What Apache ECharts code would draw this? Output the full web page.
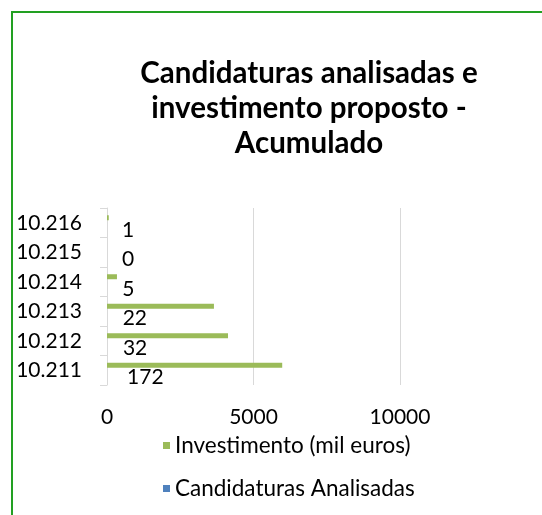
<!DOCTYPE html>
<html>
<head>
<meta charset="utf-8">
<script src="https://cdn.jsdelivr.net/npm/echarts@6/dist/echarts.min.js"></script>
<style>
html,body{margin:0;padding:0;background:#fff;overflow:hidden;}
#frame{position:absolute;left:11px;top:11px;width:600px;height:600px;border:2px solid #22a022;box-sizing:border-box;}
#chart{position:absolute;left:0;top:0;width:542px;height:515px;}
</style>
</head>
<body>
<div id="frame"></div>
<div id="chart"></div>
<script>
const categories = ['10.211', '10.212', '10.213', '10.214', '10.215', '10.216'];
const investimento = [5980, 4130, 3650, 340, 0, 60];
const candidaturas = [172, 32, 22, 5, 0, 1];
const xTicks = [0, 5000, 10000];

const FONT = 'Lato';
const chart = echarts.init(document.getElementById('chart'), null, {renderer: 'canvas'});
chart.setOption({
  animation: false,
  title: {
    text: 'Candidaturas analisadas e\ninvestimento proposto -\nAcumulado',
    left: 304,
    top: 51,
    textAlign: 'center',
    textStyle: {fontFamily: FONT, fontWeight: 'bold', fontSize: 29.5, lineHeight: 35, color: '#000'}
  },
  legend: {
    orient: 'vertical',
    left: 158,
    top: 429,
    itemWidth: 7,
    itemHeight: 7,
    itemGap: 20,
    icon: 'rect',
    textStyle: {fontFamily: FONT, fontSize: 22.5, color: '#000'},
    data: [
      {name: 'Investimento (mil euros)', itemStyle: {color: '#9bbb59'}},
      {name: 'Candidaturas Analisadas', itemStyle: {color: '#4f81bd'}}
    ]
  },
  grid: {left: 107, right: 142, top: 208, bottom: 130, containLabel: false},
  xAxis: {
    type: 'value',
    min: xTicks[0],
    max: xTicks[xTicks.length - 1],
    interval: xTicks[1] - xTicks[0],
    axisLine: {show: false},
    axisTick: {show: false},
    splitLine: {show: true, lineStyle: {color: '#d9d9d9', width: 1}},
    axisLabel: {fontFamily: FONT, fontSize: 21, color: '#000', margin: 22, formatter: function (v) { return String(v); }}
  },
  yAxis: {
    type: 'category',
    data: categories,
    axisLine: {show: true, lineStyle: {color: '#d9d9d9', width: 1}},
    axisTick: {show: true, length: 7, lineStyle: {color: '#d9d9d9'}},
    axisLabel: {fontFamily: FONT, fontSize: 21, color: '#000', margin: 25}
  },
  series: [
    {
      name: 'Investimento (mil euros)',
      type: 'bar',
      data: investimento,
      barWidth: 5,
      barGap: '100%',
      itemStyle: {color: '#9bbb59'}
    },
    {
      name: 'Candidaturas Analisadas',
      type: 'bar',
      data: candidaturas,
      barWidth: 5,
      barGap: '100%',
      itemStyle: {color: 'rgba(79,129,189,0)'},
      label: {
        show: true,
        position: 'right',
        distance: 15,
        offset: [0, 2],
        fontFamily: FONT,
        fontSize: 21,
        color: '#000'
      }
    }
  ]
});
</script>
</body>
</html>
